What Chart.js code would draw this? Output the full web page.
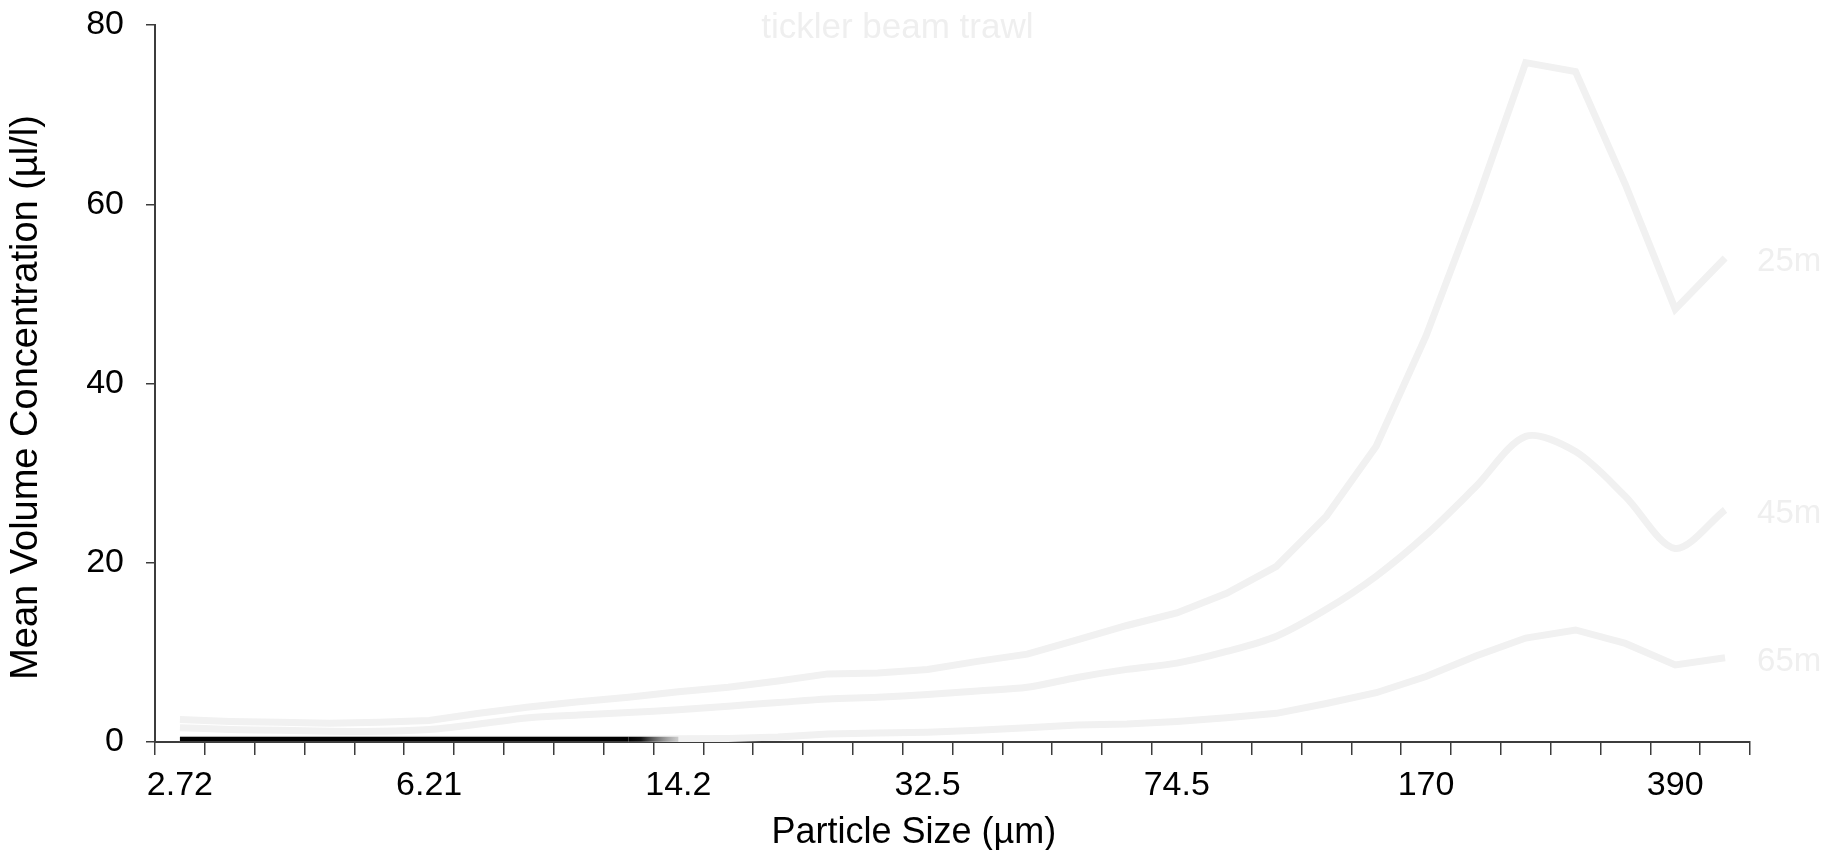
<!DOCTYPE html>
<html>
<head>
<meta charset="utf-8">
<script src="https://cdn.jsdelivr.net/npm/chart.js@4"></script>
<style>
  html, body { margin: 0; padding: 0; background: #fff; }
  #wrap { width: 1835px; height: 850px; }
</style>
</head>
<body>
<div id="wrap"><canvas id="graficoParticulas" width="1835" height="850"></canvas></div>
<script>
// particle size classes (µm)
const tamanos = ["2.72", "3.20", "3.78", "4.46", "5.27", "6.21", "7.33", "8.65", "10.2", "12.1",
    "14.2", "16.8", "19.8", "23.4", "27.6", "32.5", "38.4", "45.3", "53.5", "63.1",
    "74.5", "87.9", "104", "122", "144", "170", "201", "237", "280", "331", "390", "460"]
const etiquetasX = ["2.72", "6.21", "14.2", "32.5", "74.5", "170", "390"]

const conc25m = [2.5, 2.3, 2.2, 2.1, 2.2, 2.4, 3.2, 3.9, 4.5, 5.0, 5.6, 6.1, 6.8, 7.6, 7.7, 8.1,
    9.0, 9.8, 11.4, 13.0, 14.4, 16.6, 19.6, 25.2, 33.0, 45.3, 60.0, 75.8, 74.8, 62.2, 48.3, 54.0]
const conc45m = [1.6, 1.4, 1.3, 1.2, 1.2, 1.4, 2.0, 2.7, 3.0, 3.3, 3.6, 4.0, 4.4, 4.8, 5.0, 5.3,
    5.7, 6.1, 7.2, 8.1, 8.8, 10.1, 11.8, 14.8, 18.5, 23.1, 28.5, 34.1, 32.4, 27.4, 21.6, 25.9]
const conc65m = [0.3, 0.3, 0.3, 0.3, 0.3, 0.3, 0.3, 0.3, 0.3, 0.3, 0.35, 0.4, 0.55, 0.9, 1.0, 1.1,
    1.3, 1.6, 1.9, 2.0, 2.3, 2.7, 3.2, 4.3, 5.5, 7.3, 9.6, 11.6, 12.5, 11.0, 8.6, 9.4]
const concFondo = [0.3, 0.3, 0.3, 0.3, 0.3, 0.3, 0.3, 0.3, 0.3, 0.3, 0.3]

const tituloGrafico = "tickler beam trawl"
const tituloX = "Particle Size (µm)"
const tituloY = "Mean Volume Concentration (µl/l)"
const fuente = '"Liberation Sans", Arial, sans-serif'
const grisLinea = "#f1f1f1"
const ejeColor = "#3c3c3c"

// end labels, chart title and axis titles (placed like the original figure)
const textosGrafico = {
    id: "textosGrafico",
    afterDatasetsDraw(chart) {
        const ctx = chart.ctx
        const area = chart.chartArea
        ctx.save()
        ctx.fillStyle = "#efefef"
        ctx.font = "33px " + fuente
        ctx.textBaseline = "alphabetic"
        ctx.textAlign = "left"
        chart.data.datasets.forEach((ds, i) => {
            if (!ds.etiqueta) return
            const pts = chart.getDatasetMeta(i).data
            const p = pts[pts.length - 1]
            ctx.fillText(ds.etiqueta, p.x + 32, p.y + 13)
        })
        ctx.textAlign = "center"
        ctx.font = "35px " + fuente
        ctx.fillText(tituloGrafico, chart.width * 0.489, area.top + 13)

        ctx.fillStyle = "#000"
        ctx.textBaseline = "middle"
        ctx.font = "36px " + fuente
        ctx.fillText(tituloX, chart.width * 0.498, chart.height - 17)

        ctx.font = "38px " + fuente
        ctx.translate(27, (area.top + area.bottom) / 2 + 14)
        ctx.rotate(-Math.PI / 2)
        ctx.fillText(tituloY, 0, 0)
        ctx.restore()
    },
}

const dataGrafico = {
    labels: tamanos,
    datasets: [
        {
            label: "fondo",
            data: concFondo,
            borderColor: "#000",
            borderWidth: 5,
            segment: {
                borderColor: c => {
                    if (c.p0DataIndex < 9) return "#000"
                    const g = c.chart.ctx.createLinearGradient(c.p0.x, 0, c.p1.x, 0)
                    g.addColorStop(0, "#000")
                    g.addColorStop(0.25, "#111")
                    g.addColorStop(1, "rgba(120,120,120,0.3)")
                    return g
                },
            },
        },
        {
            label: "25m",
            etiqueta: "25m",
            data: conc25m,
            borderColor: grisLinea,
            borderWidth: 7,
        },
        {
            label: "45m",
            etiqueta: "45m",
            data: conc45m,
            borderColor: grisLinea,
            borderWidth: 7,
            tension: 0.3,
        },
        {
            label: "65m",
            etiqueta: "65m",
            data: conc65m,
            borderColor: grisLinea,
            borderWidth: 7,
        },
    ],
}

const configGrafico = {
    type: "line",
    data: dataGrafico,
    plugins: [textosGrafico],
    options: {
        responsive: false,
        animation: false,
        layout: {
            padding: { left: 0, right: 85, top: 25, bottom: 0 },
        },
        elements: {
            point: { radius: 0 },
            line: { tension: 0, borderCapStyle: "butt" },
        },
        plugins: {
            legend: { display: false },
            title: { display: false },
            tooltip: { enabled: false },
        },
        scales: {
            x: {
                offset: true,
                afterFit: s => { s.height = 108 },
                border: { display: true, color: ejeColor, width: 2 },
                grid: {
                    offset: true,
                    drawOnChartArea: false,
                    drawTicks: true,
                    tickLength: 13,
                    color: ejeColor,
                    lineWidth: 1.5,
                },
                ticks: {
                    autoSkip: false,
                    maxRotation: 0,
                    padding: 10,
                    color: "#000",
                    font: { size: 34, family: fuente },
                    callback: function (v, i) {
                        const t = tamanos[i]
                        return etiquetasX.includes(t) ? t : ""
                    },
                },
                title: { display: false },
            },
            y: {
                min: 0,
                max: 80,
                afterFit: s => {
                    s.width = 155
                    s.paddingTop = 0
                    s.paddingBottom = 0
                },
                border: { display: true, color: ejeColor, width: 2 },
                grid: {
                    drawOnChartArea: false,
                    drawTicks: true,
                    tickLength: 9,
                    color: ejeColor,
                    lineWidth: 1.5,
                },
                ticks: {
                    stepSize: 20,
                    padding: 22,
                    color: "#000",
                    font: { size: 34, family: fuente },
                },
                title: { display: false },
            },
        },
    },
}

const chart1 = new Chart(document.getElementById("graficoParticulas"), configGrafico)
</script>
</body>
</html>
